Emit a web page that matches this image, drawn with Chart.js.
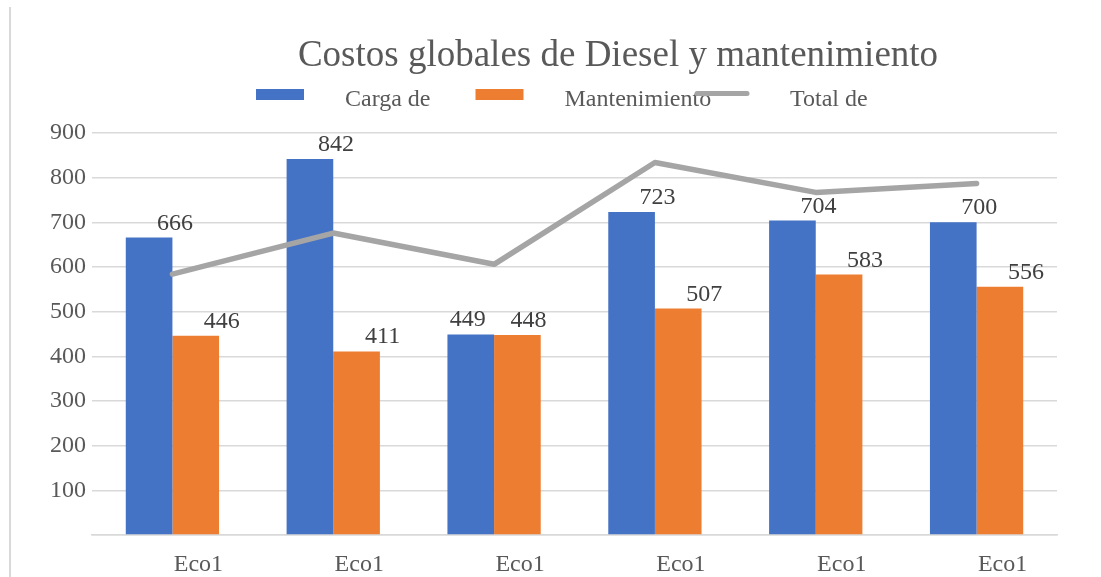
<!DOCTYPE html>
<html>
<head>
<meta charset="utf-8">
<script src="https://cdn.jsdelivr.net/npm/chart.js@4"></script>
<style>
    html, body { margin: 0; padding: 0; background: #fff; overflow: hidden; }
    #marco { position: absolute; left: 0; top: 0; width: 1101px; height: 577px; }
    #borde { position: absolute; left: 9px; top: 7px; width: 2px; height: 570px; background: #d9d9d9; }
</style>
</head>
<body>
<div id="marco">
    <canvas id="graficoCostos" width="1101" height="577"></canvas>
</div>
<div id="borde"></div>
<script>
const categorias = ['Eco1', 'Eco1', 'Eco1', 'Eco1', 'Eco1', 'Eco1'];
const nombresSeries = ['Carga de', 'Mantenimiento', 'Total de'];
const cargaDiesel = [666, 842, 449, 723, 704, 700];
const mantenimiento = [446, 411, 448, 507, 583, 556];
const totalCostos = [584, 676, 606, 834, 767, 787];
const ticksY = [100, 200, 300, 400, 500, 600, 700, 800, 900];

const TITULO = 'Costos globales de Diesel y mantenimiento';
const FUENTE = '"Liberation Serif", "Times New Roman", serif';
const AZUL = '#4472c4';
const NARANJA = '#ed7d31';
const GRIS = '#a5a5a5';

// titulo, leyenda y etiquetas dibujados a mano (estilo Excel)
const extras = {
    id: 'extras',
    afterDatasetsDraw(chart) {
        const ctx = chart.ctx;
        ctx.save();
        ctx.font = '24px ' + FUENTE;
        ctx.fillStyle = '#404040';
        ctx.textAlign = 'center';
        ctx.textBaseline = 'alphabetic';
        const m0 = chart.getDatasetMeta(0).data;
        const m1 = chart.getDatasetMeta(1).data;
        m0.forEach((barra0, i) => {
            const barra1 = m1[i];
            let x0 = barra0.x + 26;
            let x1 = barra1.x + 26;
            if (Math.abs(barra0.y - barra1.y) < 22) {
                x0 = barra0.x - 3;
                x1 = barra1.x + 11;
            }
            ctx.fillText(String(cargaDiesel[i]), x0, barra0.y - 8);
            ctx.fillText(String(mantenimiento[i]), x1, barra1.y - 8);
        });
        ctx.restore();
    },
    afterDraw(chart) {
        const ctx = chart.ctx;
        ctx.save();
        ctx.fillStyle = '#595959';
        ctx.font = '37px ' + FUENTE;
        ctx.textAlign = 'center';
        ctx.textBaseline = 'alphabetic';
        ctx.fillText(TITULO, 618, 66);

        ctx.font = '24px ' + FUENTE;
        ctx.textAlign = 'left';
        chart.data.datasets.forEach((ds, i) => {
            const x = 256 + i * 219.5;
            if (ds.type === 'line') {
                ctx.strokeStyle = GRIS;
                ctx.lineWidth = 5;
                ctx.lineCap = 'round';
                ctx.beginPath();
                ctx.moveTo(x + 2, 93.5);
                ctx.lineTo(x + 52, 93.5);
                ctx.stroke();
                ctx.fillStyle = '#595959';
                ctx.fillText(ds.label, x + 95, 106);
            } else {
                ctx.fillStyle = ds.backgroundColor;
                ctx.fillRect(x, 89, 48, 11);
                ctx.fillStyle = '#595959';
                ctx.fillText(ds.label, x + 89, 106);
            }
        });
        ctx.restore();
    }
};

const grafico = new Chart(document.getElementById('graficoCostos'), {
    type: 'bar',
    data: {
        labels: categorias,
        datasets: [
            {
                label: nombresSeries[0],
                data: cargaDiesel,
                backgroundColor: AZUL,
                order: 1,
                categoryPercentage: 0.58,
                barPercentage: 1.0
            },
            {
                label: nombresSeries[1],
                data: mantenimiento,
                backgroundColor: NARANJA,
                order: 1,
                categoryPercentage: 0.58,
                barPercentage: 1.0
            },
            {
                type: 'line',
                label: nombresSeries[2],
                data: totalCostos,
                borderColor: GRIS,
                backgroundColor: GRIS,
                borderWidth: 5.5,
                borderCapStyle: 'round',
                borderJoinStyle: 'round',
                pointRadius: 0,
                tension: 0,
                fill: false,
                order: 0
            }
        ]
    },
    options: {
        responsive: false,
        animation: false,
        layout: {
            padding: { top: 133, right: 44, bottom: 0, left: 0 }
        },
        plugins: {
            legend: { display: false },
            title: { display: false },
            tooltip: { enabled: false }
        },
        scales: {
            x: {
                grid: { display: false },
                border: { display: true, color: '#d9d9d9', width: 1.5 },
                ticks: {
                    color: '#595959',
                    font: { family: FUENTE, size: 24 },
                    labelOffset: 26,
                    padding: 7
                },
                afterFit(scale) { scale.height = 42; }
            },
            y: {
                min: 0,
                max: 900,
                grid: { color: '#d9d9d9', lineWidth: 1.5, drawTicks: false },
                border: { display: false },
                afterBuildTicks(scale) {
                    scale.ticks = [0].concat(ticksY).map(v => ({ value: v }));
                },
                ticks: {
                    color: '#595959',
                    font: { family: FUENTE, size: 24 },
                    padding: 6,
                    callback: v => (v === 0 ? '' : v)
                },
                afterFit(scale) { scale.width = 92; }
            }
        }
    },
    plugins: [extras]
});
</script>
</body>
</html>
